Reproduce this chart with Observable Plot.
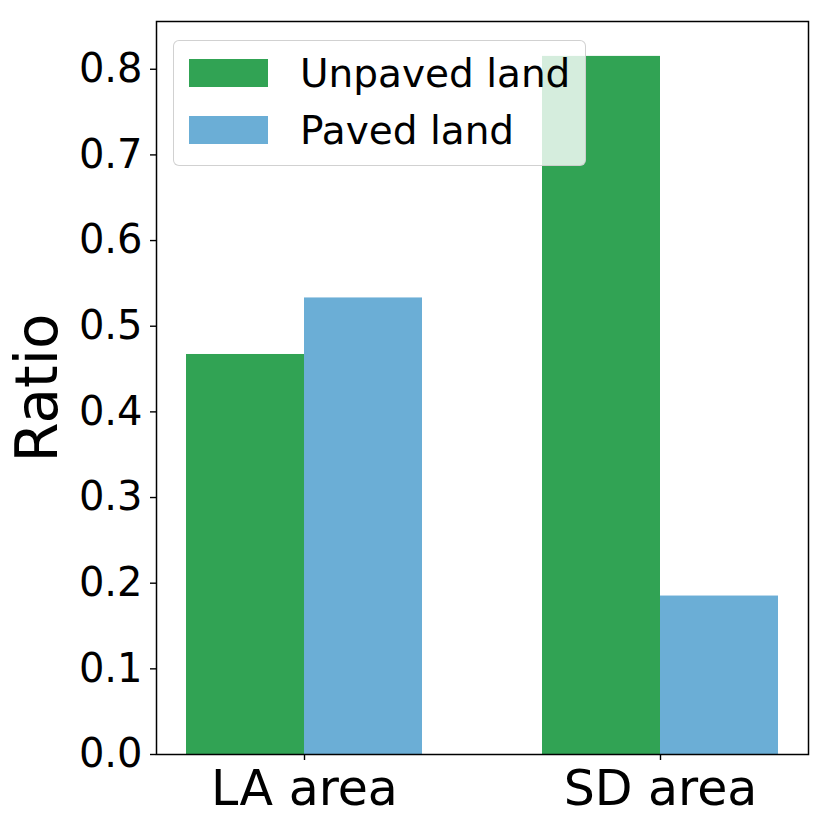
<!DOCTYPE html>
<html>
<head>
<meta charset="utf-8">
<script src="https://cdn.jsdelivr.net/npm/d3@7"></script>
<script src="https://cdn.jsdelivr.net/npm/@observablehq/plot@0.6"></script>
<style>
  html, body { margin: 0; padding: 0; background: white; }
  #wrap { position: relative; width: 830px; height: 830px; font-family: "DejaVu Sans", sans-serif; }
  #legend {
    position: absolute; left: 173px; top: 40px; width: 413px; height: 126px;
    box-sizing: border-box; border: 1.5px solid rgba(204,204,204,0.9); border-radius: 6px;
    background: rgba(255,255,255,0.8);
  }
  .row { position: absolute; left: 15px; height: 30px; display: flex; align-items: center; }
  .sw { width: 79px; height: 28px; margin-right: 32px; }
  .lab { font-size: 39px; color: black; white-space: nowrap; line-height: 1; }
</style>
</head>
<body>
<div id="wrap"></div>
<script>
const areas = ["LA area", "SD area"];
const series = ["Unpaved land", "Paved land"];
const unpaved = [0.467, 0.815];
const paved = [0.533, 0.185];
const colors = ["#31a354", "#6baed6"];
const yTicks = [0, 0.1, 0.2, 0.3, 0.4, 0.5, 0.6, 0.7, 0.8];
const yLabel = "Ratio";

const data = areas.flatMap((a, i) => [
  {area: a, series: series[0], value: unpaved[i]},
  {area: a, series: series[1], value: paved[i]}
]);

const chart = Plot.plot({
  width: 830, height: 830,
  marginLeft: 155, marginRight: 21, marginTop: 21, marginBottom: 76,
  style: {fontFamily: "DejaVu Sans", fontSize: "40px", color: "black", background: "white"},
  fx: {domain: areas, paddingInner: 0.168, paddingOuter: 0, label: null},
  x: {domain: series, paddingInner: 0, paddingOuter: 0.248, axis: null},
  y: {domain: [0, d3.max(unpaved.concat(paved)) * 1.05]},
  color: {domain: series, range: colors},
  marks: [
    Plot.barY(data, {fx: "area", x: "series", y: "value", fill: "series"}),
    Plot.axisY({ticks: yTicks, tickFormat: ".1f", tickSize: 6, tickPadding: 8, fontSize: 40, label: null, strokeWidth: 1.4}),
    Plot.axisFx({anchor: "bottom", tickSize: 6, tickPadding: 10, fontSize: 49, label: null, strokeWidth: 1.4}),
    Plot.frame({facet: "super", stroke: "black", strokeWidth: 1.5}),
    Plot.text([yLabel], {facet: "super", frameAnchor: "left", textAnchor: "middle", rotate: -90, dx: -118, fontSize: 58, fill: "black"})
  ]
});

const wrap = document.getElementById("wrap");
wrap.appendChild(chart);

const legend = document.createElement("div");
legend.id = "legend";
series.forEach((s, i) => {
  const row = document.createElement("div");
  row.className = "row";
  row.style.top = (17 + i * 57) + "px";
  const sw = document.createElement("div");
  sw.className = "sw";
  sw.style.background = colors[i];
  const lab = document.createElement("span");
  lab.className = "lab";
  lab.textContent = s;
  row.appendChild(sw);
  row.appendChild(lab);
  legend.appendChild(row);
});
wrap.appendChild(legend);
</script>
</body>
</html>
